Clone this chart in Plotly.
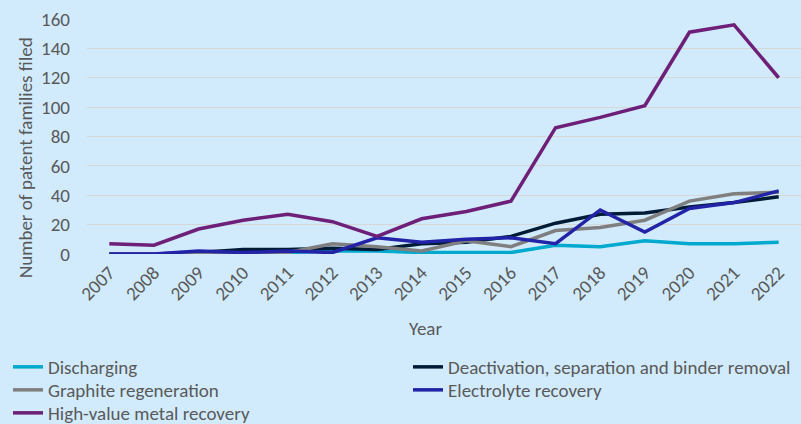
import plotly.graph_objects as go

years = list(range(2007, 2023))
discharging = [0, 0, 0, 0, 1, 2, 2, 1, 1, 1, 6, 5, 9, 7, 7, 8]
deactivation = [0, 0, 1, 3, 3, 4, 3, 7, 8, 12, 21, 27, 28, 32, 35, 39]
graphite = [0, 0, 0, 0, 1, 7, 5, 2, 9, 5, 16, 18, 23, 36, 41, 42]
electrolyte = [0, 0, 2, 1, 2, 1, 11, 8, 10, 11, 7, 30, 15, 31, 35, 43]
high_value = [7, 6, 17, 23, 27, 22, 12, 24, 29, 36, 86, 93, 101, 151, 156, 120]

# (name, values, colour, legend id, legend x px, legend row centre y px)
series = [
    ("Discharging", discharging, "#00A9CE", "legend", 8, 367),
    ("Deactivation, separation and binder removal", deactivation, "#001B35", "legend2", 408, 367),
    ("Graphite regeneration", graphite, "#7F7F7F", "legend3", 8, 390),
    ("Electrolyte recovery", electrolyte, "#2323A8", "legend4", 408, 390),
    ("High-value metal recovery", high_value, "#6E1F78", "legend5", 8, 413),
]

FONT = "Carlito, Lato, sans-serif"
TXT = "#595959"
FS = 19
W, H = 801, 424

fig = go.Figure()
legends = {}
for name, vals, col, lg, lx, ly in series:
    fig.add_trace(go.Scatter(x=years, y=vals, name=name, mode="lines",
                             legend=lg, line=dict(color=col, width=3.5)))
    legends[lg] = dict(orientation="v", xref="container", yref="container",
                       x=lx / W, y=1 - ly / H, xanchor="left", yanchor="middle",
                       font=dict(family=FONT, size=FS, color=TXT),
                       bgcolor="rgba(0,0,0,0)", tracegroupgap=0, itemwidth=30)

fig.update_layout(
    width=W, height=H,
    margin=dict(l=87, r=0, t=19, b=170, autoexpand=False),
    paper_bgcolor="#D1EBFC", plot_bgcolor="#D1EBFC",
    font=dict(family=FONT, size=FS, color=TXT),
    showlegend=True,
    xaxis=dict(range=[2006.5, 2022.5], tickmode="array", tickvals=years,
               ticktext=[str(y) for y in years], tickangle=-45,
               showgrid=False, zeroline=False, showline=False, ticks="",
               tickfont=dict(size=FS, color=TXT), ticklabelstandoff=3),
    yaxis=dict(range=[0, 160], tickvals=list(range(0, 161, 20)),
               gridcolor="#D6D6D6", gridwidth=1.2, zeroline=False, showline=False,
               ticks="", tickfont=dict(size=FS, color=TXT), ticklabelstandoff=16),
    annotations=[
        dict(text="Number of patent families filed", textangle=-90,
             xref="paper", yref="paper", x=-87/714 + 25/714, y=(254-158)/235,
             xanchor="center", yanchor="middle", showarrow=False,
             font=dict(size=FS, color=TXT)),
        dict(text="Year", xref="paper", yref="paper", x=(425-87)/714,
             y=-(328-254)/235, xanchor="center", yanchor="middle",
             showarrow=False, font=dict(size=FS, color=TXT)),
    ],
    **legends,
)

fig.write_html("out.html")
